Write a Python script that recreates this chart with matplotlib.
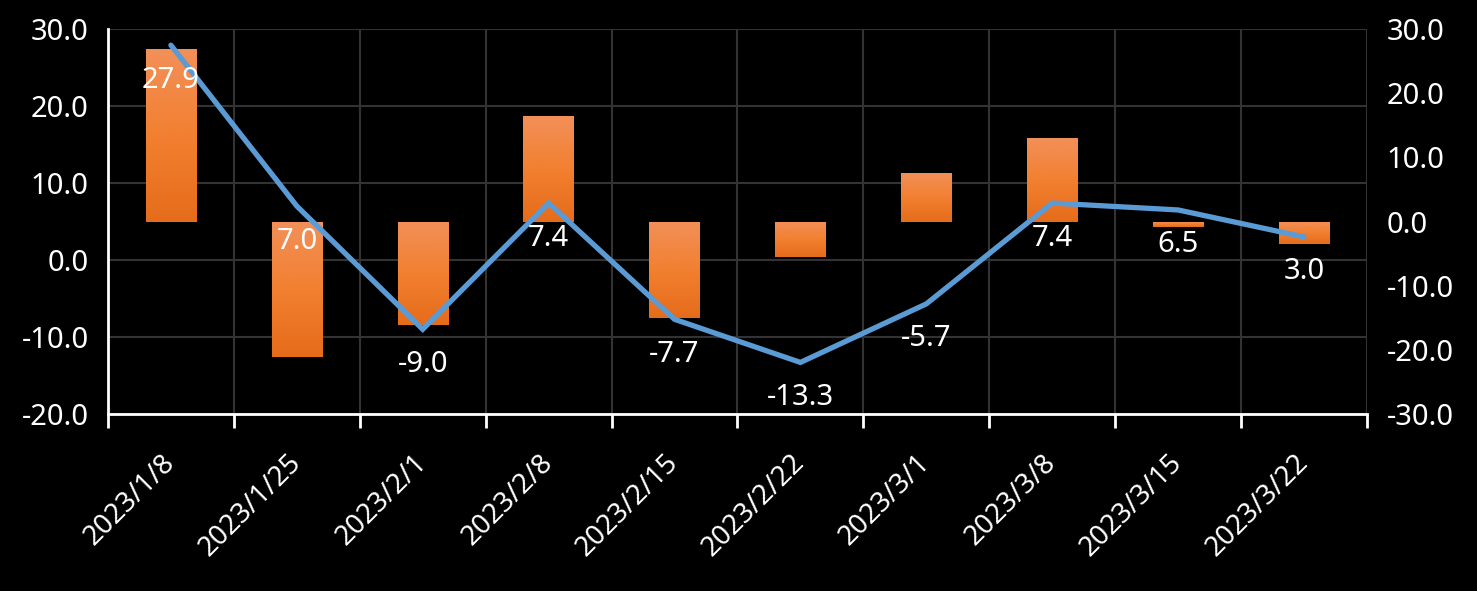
import numpy as np
import matplotlib
matplotlib.use("Agg")
import matplotlib.pyplot as plt
from matplotlib.colors import LinearSegmentedColormap

plt.rcParams['font.family'] = ['Noto Sans', 'DejaVu Sans']

# data
dates = ['2023/1/8', '2023/1/25', '2023/2/1', '2023/2/8', '2023/2/15',
         '2023/2/22', '2023/3/1', '2023/3/8', '2023/3/15', '2023/3/22']
line_vals = [27.9, 7.0, -9.0, 7.4, -7.7, -13.3, -5.7, 7.4, 6.5, 3.0]
bar_vals = [26.9, -21.1, -16.1, 16.4, -15.1, -5.6, 7.5, 13.0, -0.9, -3.5]
left_ticks = [-20, -10, 0, 10, 20, 30]
right_ticks = [-30, -20, -10, 0, 10, 20, 30]

x = np.arange(len(dates))
grid_col = '#333333'
bar_cmap = LinearSegmentedColormap.from_list('bar', ['#f29059', '#f28030', '#e56c1b'])

fig = plt.figure(figsize=(14.77, 5.91), dpi=100, facecolor='black')
ax = fig.add_axes([0.0731, 0.2995, 0.8524, 0.6514])
ax2 = ax.twinx()
ax.set_zorder(ax2.get_zorder() + 1)
ax.patch.set_visible(False)
ax2.patch.set_visible(False)

ax.set_xlim(-0.5, len(dates) - 0.5)
ax.set_ylim(left_ticks[0], left_ticks[-1])
ax2.set_ylim(right_ticks[0], right_ticks[-1])

# grid (follows the left axis, drawn behind the bars)
for t in left_ticks:
    f = (t - left_ticks[0]) / (left_ticks[-1] - left_ticks[0])
    ax2.plot([0, 1], [f, f], transform=ax2.transAxes, color=grid_col, lw=1.5, zorder=0)
for b in np.arange(0.5, len(dates), 1.0):
    ax2.axvline(b, color=grid_col, lw=1.5, zorder=0)

# bars with a vertical gradient
bars = ax2.bar(x, bar_vals, width=0.4, color='#f07f2a', zorder=2)
grad = np.linspace(0, 1, 256).reshape(-1, 1)
for rect in bars:
    x0, w = rect.get_x(), rect.get_width()
    y0, h = rect.get_y(), rect.get_height()
    ylo, yhi = min(y0, y0 + h), max(y0, y0 + h)
    im = ax2.imshow(grad, cmap=bar_cmap, aspect='auto', origin='upper',
                    extent=[x0, x0 + w, ylo, yhi], zorder=3)
    im.set_clip_path(rect)
ax2.set_xlim(-0.5, len(dates) - 0.5)
ax2.set_ylim(right_ticks[0], right_ticks[-1])

# line
ax.plot(x, line_vals, color='#5b9bd5', lw=3.8, solid_capstyle='round',
        solid_joinstyle='miter', zorder=4)
for xi, v in zip(x, line_vals):
    ax.annotate(f'{v:.1f}', (xi, v), xytext=(0, -35), textcoords='offset pixels',
                ha='center', va='center', color='white', fontsize=21, zorder=5)

# axes styling
for s in ['top', 'right']:
    ax.spines[s].set_visible(False)
for s in ax2.spines.values():
    s.set_visible(False)
ax.spines['left'].set_color('white')
ax.spines['bottom'].set_color('white')
ax.spines['left'].set_linewidth(2)
ax.spines['bottom'].set_linewidth(2)

ax.set_yticks(left_ticks)
ax.set_yticklabels([f'{t:.1f}' for t in left_ticks])
ax.tick_params(axis='y', length=0, pad=14, labelsize=21, labelcolor='white')
ax2.set_yticks(right_ticks)
ax2.set_yticklabels([f'{t:.1f}' for t in right_ticks])
ax2.tick_params(axis='y', length=0, pad=14, labelsize=21, labelcolor='white')
ax2.set_xticks([])

ax.set_xticks(np.arange(-0.5, len(dates), 1.0))
ax.set_xticklabels([])
ax.set_xticks(x, minor=True)
ax.set_xticklabels(dates, minor=True, rotation=45, ha='right', va='center',
                   rotation_mode='anchor')
ax.tick_params(axis='x', which='major', direction='out', length=10, width=2, color='white')
ax.tick_params(axis='x', which='minor', length=0, pad=32, labelsize=20, labelcolor='white')

fig.savefig('out.png', dpi=100, facecolor='black')
